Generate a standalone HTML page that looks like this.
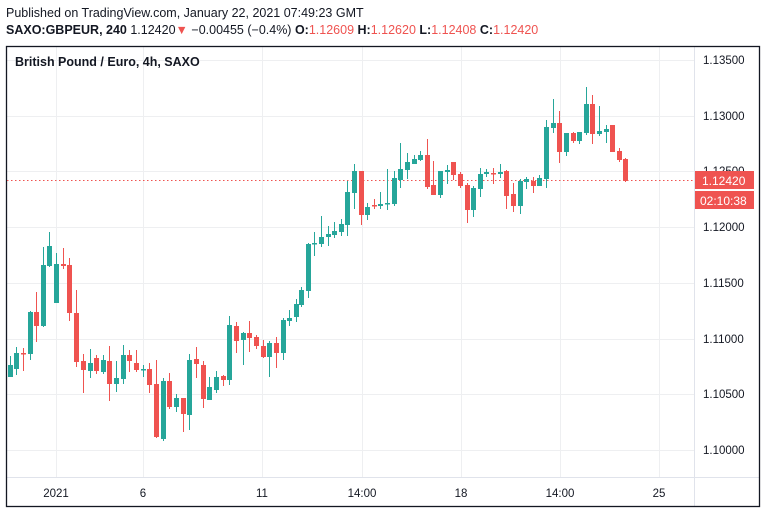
<!DOCTYPE html>
<html><head><meta charset="utf-8"><style>
body{margin:0;background:#fff;width:766px;height:513px;overflow:hidden;font-family:"Liberation Sans",sans-serif}
</style></head><body>
<svg width="766" height="513" xmlns="http://www.w3.org/2000/svg" font-family="Liberation Sans, sans-serif">
<rect width="766" height="513" fill="#fff"/>
<text x="6" y="17" font-size="12.5" fill="#131722">Published on TradingView.com, January 22, 2021 07:49:23 GMT</text>
<text x="6" y="34" font-size="12.5" fill="#131722"><tspan font-weight="bold">SAXO:GBPEUR, 240</tspan> 1.12420<tspan fill="#ef5350">▼</tspan> −0.00455 (−0.4%) <tspan font-weight="bold">O:</tspan><tspan fill="#ef5350">1.12609</tspan> <tspan font-weight="bold">H:</tspan><tspan fill="#ef5350">1.12620</tspan> <tspan font-weight="bold">L:</tspan><tspan fill="#ef5350">1.12408</tspan> <tspan font-weight="bold">C:</tspan><tspan fill="#ef5350">1.12420</tspan></text>
<g stroke="#eeeff1" stroke-width="1">
<line x1="56.5" y1="47" x2="56.5" y2="477"/><line x1="143.5" y1="47" x2="143.5" y2="477"/><line x1="262.5" y1="47" x2="262.5" y2="477"/><line x1="362.5" y1="47" x2="362.5" y2="477"/><line x1="461.5" y1="47" x2="461.5" y2="477"/><line x1="560.5" y1="47" x2="560.5" y2="477"/><line x1="659.5" y1="47" x2="659.5" y2="477"/>
<line x1="7" y1="60.5" x2="694" y2="60.5"/><line x1="7" y1="116.5" x2="694" y2="116.5"/><line x1="7" y1="171.5" x2="694" y2="171.5"/><line x1="7" y1="227.5" x2="694" y2="227.5"/><line x1="7" y1="283.5" x2="694" y2="283.5"/><line x1="7" y1="339.5" x2="694" y2="339.5"/><line x1="7" y1="394.5" x2="694" y2="394.5"/><line x1="7" y1="450.5" x2="694" y2="450.5"/>
</g>
<line x1="694.5" y1="47" x2="694.5" y2="507" stroke="#e0e3eb"/>
<line x1="7" y1="477.5" x2="759" y2="477.5" stroke="#e0e3eb"/>
<rect x="6.5" y="46.5" width="753" height="460" fill="none" stroke="#131722" stroke-width="1.3"/>
<text x="15" y="66" font-size="12.5" font-weight="bold" fill="#131722">British Pound / Euro, 4h, SAXO</text>
<line x1="7" y1="180.5" x2="694" y2="180.5" stroke="#ef5350" stroke-dasharray="1.5,2.5"/>

<path stroke="#26a69a" fill="none" d="M10.5 356V377M16.5 347V375M30.5 311V360M43.5 247V327M49.5 232V267M56.5 253V303M90.5 349V378M103.5 355V374M116.5 361V392M123.5 345V384M143.5 365V377M163.5 378V441M176.5 394V412M189.5 354V430M209.5 377V400M216.5 371V393M229.5 316V385M243.5 332V365M269.5 341V377M283.5 318V360M289.5 310V326M296.5 299V322M301.5 287V307M308.5 243V298M314.5 232V256M321.5 216V247M328.5 226V246M334.5 222V238M341.5 219V236M347.5 181V236M354.5 164V209M367.5 203V220M380.5 192V209M387.5 169V210M394.5 171V206M400.5 143V188M407.5 153V179M414.5 155V164M420.5 151V161M440.5 171V198M447.5 165V184M473.5 186V217M480.5 168V197M486.5 169V177M500.5 164V178M520.5 179V214M526.5 177V189M539.5 175V186M546.5 120V188M553.5 99V133M566.5 133V156M579.5 132V144M586.5 87V135M599.5 106V136M606.5 125V143"/>
<g fill="#26a69a">
<rect x="8" y="365" width="5" height="12"/><rect x="14" y="353" width="5" height="16"/><rect x="28" y="312" width="5" height="42"/><rect x="41" y="265" width="5" height="61"/><rect x="47" y="246" width="5" height="20"/><rect x="54" y="264" width="5" height="39"/><rect x="88" y="363" width="5" height="8"/><rect x="101" y="360" width="5" height="12"/><rect x="114" y="378" width="5" height="6"/><rect x="121" y="355" width="5" height="24"/><rect x="141" y="369" width="5" height="1.5"/><rect x="161" y="381" width="5" height="58"/><rect x="174" y="398" width="5" height="9"/><rect x="187" y="360" width="5" height="55"/><rect x="207" y="387" width="5" height="13"/><rect x="214" y="377" width="5" height="13"/><rect x="227" y="325" width="5" height="55"/><rect x="241" y="333" width="5" height="7"/><rect x="267" y="343" width="5" height="14"/><rect x="281" y="320" width="5" height="33"/><rect x="287" y="318" width="5" height="3"/><rect x="294" y="304" width="5" height="13"/><rect x="299" y="290" width="5" height="15"/><rect x="306" y="244" width="5" height="47"/><rect x="312" y="243" width="5" height="1.5"/><rect x="319" y="237" width="5" height="7"/><rect x="326" y="234" width="5" height="3"/><rect x="332" y="231" width="5" height="4"/><rect x="339" y="224" width="5" height="8"/><rect x="345" y="192" width="5" height="33"/><rect x="352" y="171" width="5" height="22"/><rect x="365" y="207" width="5" height="8"/><rect x="378" y="204" width="5" height="2"/><rect x="385" y="203" width="5" height="1.5"/><rect x="392" y="178" width="5" height="26"/><rect x="398" y="169" width="5" height="11"/><rect x="405" y="162" width="5" height="8"/><rect x="412" y="159" width="5" height="5"/><rect x="418" y="155" width="5" height="5"/><rect x="438" y="171" width="5" height="24"/><rect x="445" y="170" width="5" height="2"/><rect x="471" y="188" width="5" height="22"/><rect x="478" y="174" width="5" height="15"/><rect x="484" y="172" width="5" height="2"/><rect x="498" y="172" width="5" height="2"/><rect x="518" y="181" width="5" height="25"/><rect x="524" y="179" width="5" height="3"/><rect x="537" y="178" width="5" height="8"/><rect x="544" y="127" width="5" height="52"/><rect x="551" y="123" width="5" height="5"/><rect x="564" y="133" width="5" height="19"/><rect x="577" y="132" width="5" height="9"/><rect x="584" y="104" width="5" height="29"/><rect x="597" y="131" width="5" height="3"/><rect x="604" y="129" width="5" height="3"/>
</g>
<path stroke="#ef5350" fill="none" d="M23.5 348V371M36.5 292V342M63.5 248V269M69.5 258V321M76.5 290V367M83.5 354V393M96.5 355V374M109.5 346V401M129.5 350V372M136.5 350V372M149.5 363V393M156.5 360V438M169.5 373V409M183.5 398V432M196.5 347V378M203.5 361V408M223.5 375V386M236.5 322V353M249.5 321V352M256.5 335V349M263.5 340V358M276.5 337V368M361.5 171V225M374.5 199V209M427.5 139V189M433.5 161V195M453.5 162V180M460.5 172V188M467.5 183V223M493.5 168V184M506.5 170V209M513.5 183V212M533.5 177V193M559.5 111V163M573.5 132V143M592.5 95V144M612.5 125V152M619.5 148V162M625.5 158V182"/>
<g fill="#ef5350">
<rect x="21" y="353" width="5" height="1.5"/><rect x="34" y="312" width="5" height="14"/><rect x="61" y="264" width="5" height="2"/><rect x="67" y="265" width="5" height="48"/><rect x="74" y="313" width="5" height="49"/><rect x="81" y="361" width="5" height="9"/><rect x="94" y="358" width="5" height="13"/><rect x="107" y="361" width="5" height="23"/><rect x="127" y="355" width="5" height="6"/><rect x="134" y="363" width="5" height="7"/><rect x="147" y="369" width="5" height="16"/><rect x="154" y="384" width="5" height="53"/><rect x="167" y="381" width="5" height="26"/><rect x="181" y="398" width="5" height="16"/><rect x="194" y="359" width="5" height="5"/><rect x="201" y="365" width="5" height="34"/><rect x="221" y="376" width="5" height="4"/><rect x="234" y="326" width="5" height="15"/><rect x="247" y="333" width="5" height="5"/><rect x="254" y="337" width="5" height="9"/><rect x="261" y="346" width="5" height="11"/><rect x="274" y="343" width="5" height="10"/><rect x="359" y="171" width="5" height="44"/><rect x="372" y="205" width="5" height="1.5"/><rect x="425" y="155" width="5" height="32"/><rect x="431" y="185" width="5" height="10"/><rect x="451" y="162" width="5" height="13"/><rect x="458" y="174" width="5" height="12"/><rect x="465" y="185" width="5" height="25"/><rect x="491" y="173" width="5" height="1.5"/><rect x="504" y="171" width="5" height="25"/><rect x="511" y="194" width="5" height="12"/><rect x="531" y="181" width="5" height="5"/><rect x="557" y="123" width="5" height="29"/><rect x="571" y="133" width="5" height="8"/><rect x="590" y="104" width="5" height="30"/><rect x="610" y="125" width="5" height="27"/><rect x="617" y="151" width="5" height="9"/><rect x="623" y="159" width="5" height="22"/>
</g>

<g font-size="11.5" fill="#131722">
<text x="703" y="64">1.13500</text><text x="703" y="120">1.13000</text><text x="703" y="175">1.12500</text><text x="703" y="231">1.12000</text><text x="703" y="287">1.11500</text><text x="703" y="343">1.11000</text><text x="703" y="398">1.10500</text><text x="703" y="454">1.10000</text>
</g>
<rect x="695" y="171" width="59" height="18" fill="#ef5350"/>
<rect x="695" y="191" width="59" height="18" fill="#ef5350"/>
<text x="702" y="185" font-size="12" fill="#fff">1.12420</text>
<text x="700" y="205" font-size="12" fill="#fff">02:10:38</text>
<g font-size="11.5" fill="#131722" text-anchor="middle">
<text x="56" y="497">2021</text><text x="143" y="497">6</text><text x="262" y="497">11</text><text x="362" y="497">14:00</text><text x="461" y="497">18</text><text x="560" y="497">14:00</text><text x="659" y="497">25</text>
</g>
</svg>
</body></html>
